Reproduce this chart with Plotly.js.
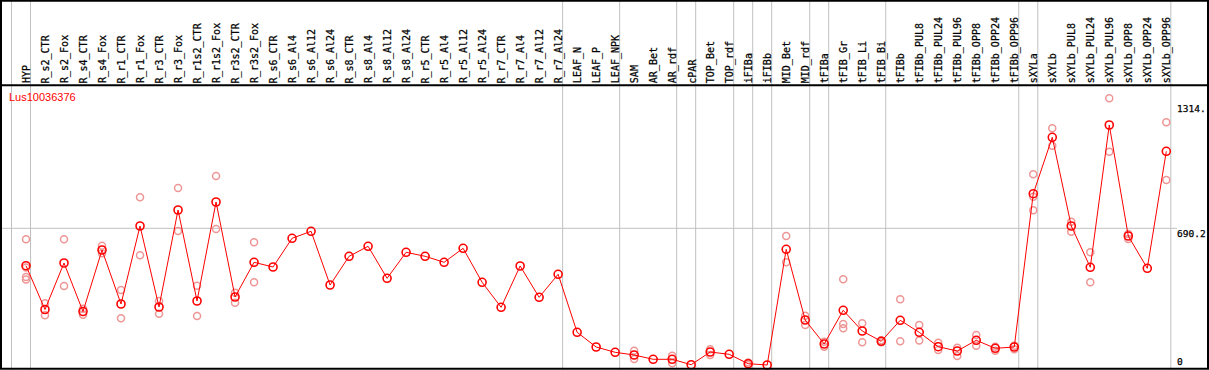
<!DOCTYPE html>
<html>
<head>
<meta charset="utf-8">
<script src="https://cdn.plot.ly/plotly-3.0.1.min.js"></script>
<style>
  html, body { margin: 0; padding: 0; background: #ffffff; }
  #chart { width: 1209px; height: 370px; }
</style>
</head>
<body>
<div id="chart"></div>
<script>
// ---------------- data ----------------
const geneName = 'Lus10036376';

const categories = [
  'HYP',
  'R_s2_CTR', 'R_s2_Fox', 'R_s4_CTR', 'R_s4_Fox', 'R_r1_CTR', 'R_r1_Fox', 'R_r3_CTR', 'R_r3_Fox',
  'R_r1s2_CTR', 'R_r1s2_Fox', 'R_r3s2_CTR', 'R_r3s2_Fox',
  'R_s6_CTR', 'R_s6_Al4', 'R_s6_Al12', 'R_s6_Al24',
  'R_s8_CTR', 'R_s8_Al4', 'R_s8_Al12', 'R_s8_Al24',
  'R_r5_CTR', 'R_r5_Al4', 'R_r5_Al12', 'R_r5_Al24',
  'R_r7_CTR', 'R_r7_Al4', 'R_r7_Al12', 'R_r7_Al24',
  'LEAF_N', 'LEAF_P', 'LEAF_NPK',
  'SAM', 'AR_Bet', 'AR_rdf',
  'cPAR',
  'TOP_Bet', 'TOP_rdf',
  'iFIBa',
  'iFIBb',
  'MID_Bet', 'MID_rdf',
  'tFIBa',
  'tFIB_Gr', 'tFIB_Li', 'tFIB_Bi',
  'tFIBb', 'tFIBb_PUL8', 'tFIBb_PUL24', 'tFIBb_PUL96', 'tFIBb_OPP8', 'tFIBb_OPP24', 'tFIBb_OPP96',
  'sXYLa',
  'sXYLb', 'sXYLb_PUL8', 'sXYLb_PUL24', 'sXYLb_PUL96', 'sXYLb_OPP8', 'sXYLb_OPP24', 'sXYLb_OPP96'
];

// number of categories in each tissue group (separated by grey lines)
const groupSizes = [1, 28, 3, 3, 1, 2, 1, 1, 2, 1, 3, 7, 1, 7];

const meanValues = [
  503.4,
  284.7, 516.9, 274.7, 581.8, 312.1, 701.7, 297.2, 781.6,
  327.1, 821.6, 347.1, 520.4,
  496.9, 640.3, 675.2, 407.0,
  550.4, 600.3, 440.5, 570.3,
  550.4, 520.4, 590.3, 420.5,
  295.7, 501.9, 345.6, 460.5,
  170.8, 97.4, 70.9,
  57.4, 36.0, 36.0,
  9.0,
  72.4, 60.9,
  14.0,
  7.5,
  585.3, 232.2,
  112.4,
  280.7, 177.3, 125.9,
  230.7, 170.8, 98.9, 77.4, 130.9, 90.9, 97.4,
  863.0,
  1144.7, 701.7, 495.4, 1206.1, 651.8, 490.4, 1074.8
];

const replicates = [
  [635.3, 494.4, 447.0, 434.5],
  [315.6, 255.7], [635.3, 402.0], [288.7, 258.7], [603.3, 565.4], [382.1, 240.7], [845.0, 555.4], [327.1, 263.7], [891.5, 676.7],
  [403.5, 252.2], [951.4, 686.7], [368.6, 318.6], [620.3, 420.5],
  [], [], [], [],
  [], [], [], [],
  [], [], [], [],
  [], [], [], [],
  [], [], [],
  [78.9, 37.5], [], [53.9, 16.0],
  [],
  [85.9, 57.4], [],
  [20.0, 7.5],
  [],
  [651.8, 520.4], [253.7, 207.3],
  [123.9, 98.9],
  [435.5, 212.3, 190.8], [215.8, 120.9], [130.9, 120.9],
  [335.6, 125.9], [207.3, 129.9], [118.9, 82.4], [93.9, 52.4], [157.3, 103.9], [98.9, 78.9], [103.9, 85.9],
  [959.9, 848.0, 780.1],
  [1189.6, 1102.7], [723.2, 673.2], [570.3, 420.5], [1339.5, 1072.8], [661.7, 636.8], [], [1219.6, 931.4]
];

const tickValues = [0, 690.2, 1314];
const tickLabels = ['0', '690.2', '1314.'];

// ---------------- build ----------------
const W = 1209, H = 370;
const mono = 'DejaVu Sans Mono, monospace';

const repX = [], repY = [];
replicates.forEach((vals, i) => vals.forEach(v => { repX.push(categories[i]); repY.push(v); }));

const traces = [
  {
    type: 'scatter', mode: 'markers', x: repX, y: repY,
    marker: { symbol: 'circle-open', size: 7, color: 'rgb(238,150,150)', line: { width: 1.5, color: 'rgb(238,150,150)' } },
    hoverinfo: 'skip', cliponaxis: false
  },
  {
    type: 'scatter', mode: 'lines+markers', x: categories, y: meanValues,
    line: { color: '#ff0000', width: 1 },
    marker: { symbol: 'circle-open', size: 8, color: '#ff0000', line: { width: 1.6, color: '#ff0000' } },
    cliponaxis: false
  }
];

const shapes = [];
const px = p => p / W;           // pixel -> paper x
const py = p => 1 - p / H;       // pixel -> paper y
const sepOffset = 0.237;         // separator sits just right of a label

// separators
const breaks = [-1];
let cum = -1;
groupSizes.forEach(s => { cum += s; breaks.push(cum); });
breaks.forEach(b => {
  shapes.push({ type: 'line', xref: 'x', yref: 'paper', x0: b + sepOffset, x1: b + sepOffset, y0: 0, y1: 1,
    line: { color: '#c0c0c0', width: 1 }, layer: 'below' });
});
// horizontal reference line at middle tick
shapes.push({ type: 'line', xref: 'paper', yref: 'y', x0: px(1), x1: px(1177), y0: tickValues[1], y1: tickValues[1],
  line: { color: '#c0c0c0', width: 1 }, layer: 'below' });
// header bottom line
shapes.push({ type: 'line', xref: 'paper', yref: 'paper', x0: 0, x1: 1, y0: py(85.3), y1: py(85.3),
  line: { color: '#000000', width: 2 } });
// border
shapes.push({ type: 'rect', xref: 'paper', yref: 'paper', x0: px(1), x1: px(1208), y0: py(368.8), y1: py(0.8),
  line: { color: '#000000', width: 2 } });

const annotations = [];
categories.forEach(c => {
  annotations.push({ x: c, xref: 'x', yref: 'paper', y: py(83.5), text: c, showarrow: false,
    textangle: -90, xanchor: 'center', yanchor: 'bottom', xshift: 0.5, borderpad: 0, borderwidth: 0,
    font: { family: mono, size: 10, color: '#000000' } });
});
annotations.push({ xref: 'paper', yref: 'paper', x: px(9), y: py(97), text: geneName, showarrow: false,
  xanchor: 'left', yanchor: 'middle', borderpad: 0, borderwidth: 0,
  font: { family: 'Liberation Sans, Arial, sans-serif', size: 11, color: '#ff0000' } });
tickValues.forEach((v, i) => {
  annotations.push({ xref: 'paper', yref: 'y', x: px(1177), y: v, text: tickLabels[i], showarrow: false,
    xanchor: 'left', yanchor: i === 0 ? 'bottom' : 'top', borderpad: 0, borderwidth: 0,
    font: { family: mono, size: 9.5, color: '#000000' } });
});

const layout = {
  width: W, height: H,
  margin: { l: 0, r: 0, t: 0, b: 0, pad: 0 },
  paper_bgcolor: '#ffffff', plot_bgcolor: '#ffffff',
  showlegend: false,
  xaxis: { type: 'category', categoryorder: 'array', categoryarray: categories,
    range: [-1.368, 62.247], showgrid: false, zeroline: false, showticklabels: false, showline: false, ticks: '', fixedrange: true },
  yaxis: { range: [-17.48, 1830.4], showgrid: false, zeroline: false, showticklabels: false, showline: false, ticks: '', fixedrange: true },
  shapes: shapes,
  annotations: annotations
};

Plotly.newPlot('chart', traces, layout, { displayModeBar: false, staticPlot: true }).then(gd => {
  // give the small monospace labels a hairline stroke so thin strokes (underscores) stay visible
  gd.querySelectorAll('.annotation-text').forEach(t => {
    if ((t.style.fontFamily || '').indexOf('Mono') !== -1) {
      t.style.stroke = '#000000';
      t.style.strokeWidth = '0.25px';
    }
  });
});
</script>
</body>
</html>
